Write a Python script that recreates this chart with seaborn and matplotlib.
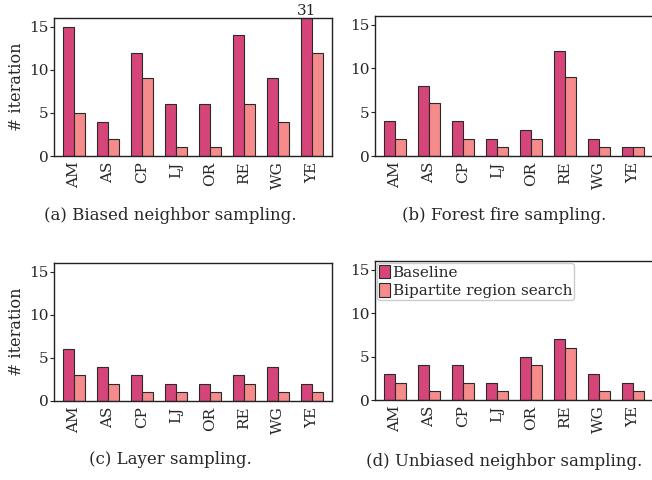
import matplotlib
matplotlib.use("Agg")
import matplotlib.pyplot as plt
import seaborn as sns
import pandas as pd

categories = ["AM", "AS", "CP", "LJ", "OR", "RE", "WG", "YE"]
series_names = ["Baseline", "Bipartite region search"]

biased_baseline = [15, 4, 12, 6, 6, 14, 9, 31]
biased_bipartite = [5, 2, 9, 1, 1, 6, 4, 12]
forest_baseline = [4, 8, 4, 2, 3, 12, 2, 1]
forest_bipartite = [2, 6, 2, 1, 2, 9, 1, 1]
layer_baseline = [6, 4, 3, 2, 2, 3, 4, 2]
layer_bipartite = [3, 2, 1, 1, 1, 2, 1, 1]
unbiased_baseline = [3, 4, 4, 2, 5, 7, 3, 2]
unbiased_bipartite = [2, 1, 2, 1, 4, 6, 1, 1]

captions = ["(a) Biased neighbor sampling.", "(b) Forest fire sampling.",
            "(c) Layer sampling.", "(d) Unbiased neighbor sampling."]
y_ticks = [0, 5, 10, 15]
y_max = 16

sns.set_theme(style="white")
plt.rcParams["font.family"] = ["DejaVu Serif"]
FS = 11
CAP_FS = 12

colors = ["#d6457a", "#f58b8b"]

fig = plt.figure(figsize=(6.52, 4.8), dpi=100)

W, H = 652.0, 480.0
def box(x0, y0, x1, y1):
    return [x0 / W, 1 - y1 / H, (x1 - x0) / W, (y1 - y0) / H]

panels = [
    (box(54, 18, 332, 156), biased_baseline, biased_bipartite, 170, 215, True, False),
    (box(375, 16, 653, 156), forest_baseline, forest_bipartite, 504, 215, False, False),
    (box(54, 263, 332, 401), layer_baseline, layer_bipartite, 170, 459, True, False),
    (box(375, 261, 653, 400), unbiased_baseline, unbiased_bipartite, 504, 461, False, True),
]

for i, (pos, base, bip, cx, cy, ylab, leg) in enumerate(panels):
    ax = fig.add_axes(pos)
    df = pd.DataFrame({
        "cat": categories * 2,
        "val": list(base) + list(bip),
        "series": [series_names[0]] * len(categories) + [series_names[1]] * len(categories),
    })
    sns.barplot(data=df, x="cat", y="val", hue="series", palette=colors,
                width=0.63, dodge=True, ax=ax, edgecolor="#2a2a2a",
                linewidth=0.8, legend=leg, saturation=1)
    ax.set_xlim(-0.59, 7.59)
    ax.set_ylim(0, y_max)
    ax.set_yticks(y_ticks)
    ax.set_xlabel("")
    ax.set_ylabel("# iteration" if ylab else "", fontsize=FS + 0.5, labelpad=3)
    ax.tick_params(axis="x", rotation=90, labelsize=FS, length=0, pad=4)
    ax.tick_params(axis="y", labelsize=FS, direction="out", length=3, width=0.8,
                   left=True, pad=1, color="#222222")
    for s in ax.spines.values():
        s.set_visible(True)
        s.set_color("#222222")
        s.set_linewidth(1.0)
    for j, v in enumerate(base):
        if v > y_max:
            bar = ax.containers[0][j]
            ax.text(bar.get_x() + bar.get_width() / 2, y_max, str(v),
                    ha="center", va="bottom", fontsize=FS, clip_on=False)
    if leg:
        ax.legend(loc="upper left", fontsize=FS, frameon=True, handlelength=0.7,
                  handleheight=1.0, handletextpad=0.2, borderpad=0.15,
                  borderaxespad=0.1, labelspacing=0.2, fancybox=True,
                  edgecolor="#cccccc", framealpha=1)
    fig.text(cx / W, 1 - cy / H, captions[i], ha="center", va="center", fontsize=CAP_FS)

fig.savefig("out.png", dpi=100)
